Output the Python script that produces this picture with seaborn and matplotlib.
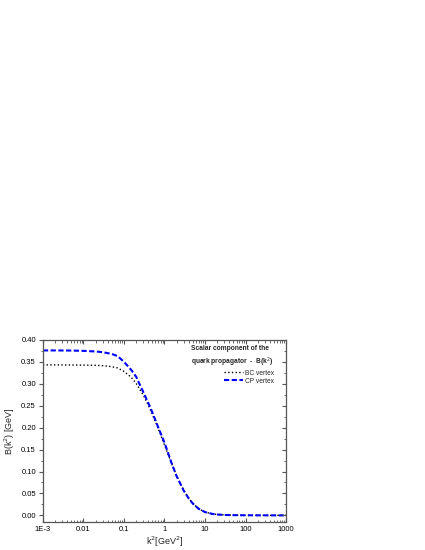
import numpy as np
import pandas as pd
import seaborn as sns
import matplotlib.pyplot as plt
from matplotlib.ticker import LogLocator, MultipleLocator, FixedFormatter, FixedLocator, NullFormatter

# values
k2 = [0.001, 0.002, 0.005, 0.01, 0.02, 0.03, 0.05, 0.07, 0.1, 0.15, 0.2, 0.3, 0.4, 0.5,
      0.7, 1.0, 1.5, 2.0, 3.0, 4.0, 5.0, 7.0, 10, 15, 20, 30, 50, 100, 200, 500, 1000]
b_bc = [0.3430, 0.3430, 0.3428, 0.3425, 0.3420, 0.3412, 0.3390, 0.3360, 0.3280, 0.3150,
        0.3010, 0.2740, 0.2510, 0.2310, 0.1980, 0.1610, 0.1180, 0.0900, 0.0570, 0.0390,
        0.0270, 0.0150, 0.0075, 0.0035, 0.0020, 0.0010, 0.0005, 0.0002, 0.0001, 0.0, 0.0]
b_cp = [0.3760, 0.3760, 0.3757, 0.3750, 0.3736, 0.3720, 0.3680, 0.3630, 0.3500, 0.3320,
        0.3160, 0.2810, 0.2560, 0.2350, 0.2010, 0.1660, 0.1190, 0.0890, 0.0560, 0.0380,
        0.0270, 0.0150, 0.0075, 0.0035, 0.0020, 0.0010, 0.0005, 0.0002, 0.0001, 0.0, 0.0]

xticks = [1e-3, 1e-2, 1e-1, 1, 10, 100, 1000]
xticklabels = ["1E-3", "0.01", "0.1", "1", "10", "100", "1000"]

sns.set_style("ticks")
plt.rcParams['font.family'] = ['Liberation Sans', 'DejaVu Sans']

fig = plt.figure(figsize=(4.25, 5.5), dpi=100)
ax = fig.add_axes([0.101, 0.051, 0.572, 0.331])

sns.lineplot(x=k2, y=b_bc, ax=ax, color="black", linestyle=":", linewidth=1.0, label="BC vertex")
sns.lineplot(x=k2, y=b_cp, ax=ax, color="#0000ff", linestyle=(0, (2.5, 1.2)), linewidth=1.5,
             label="CP vertex")

ax.set_xscale("log")
ax.set_xlim(1e-3, 1000)
ax.set_ylim(-0.015, 0.40)
ax.xaxis.set_major_locator(FixedLocator(xticks))
ax.xaxis.set_major_formatter(FixedFormatter(xticklabels))
ax.xaxis.set_minor_locator(LogLocator(base=10, subs=np.arange(2, 10), numticks=20))
ax.xaxis.set_minor_formatter(NullFormatter())
ax.yaxis.set_major_locator(MultipleLocator(0.05))
ax.yaxis.set_minor_locator(MultipleLocator(0.025))
ax.yaxis.set_major_formatter(plt.FuncFormatter(lambda v, p: "%.2f" % v))

for s in ax.spines.values():
    s.set_visible(True)
    s.set_color("#555555")
    s.set_linewidth(0.9)

ax.tick_params(axis="y", which="both", direction="out", left=True, right=False, labelsize=5.5,
               colors="#555555", labelcolor="black", pad=2)
ax.tick_params(axis="x", which="both", direction="in", bottom=True, top=True, labelsize=5.5,
               colors="#555555", labelcolor="black", pad=3)
ax.tick_params(axis="both", which="major", length=3, width=0.8)
ax.tick_params(axis="both", which="minor", length=1.8, width=0.6)

# inner ticks on the right side via a twin
ax2 = ax.twinx()
ax2.set_ylim(ax.get_ylim())
ax2.yaxis.set_major_locator(MultipleLocator(0.05))
ax2.yaxis.set_minor_locator(MultipleLocator(0.025))
ax2.tick_params(axis="y", which="both", direction="in", labelright=False, colors="#555555")
ax2.tick_params(axis="y", which="major", length=3, width=0.8)
ax2.tick_params(axis="y", which="minor", length=1.8, width=0.6)
for s in ax2.spines.values():
    s.set_visible(False)

ax.set_xlabel("k$^2$[GeV$^2$]", fontsize=6.5, labelpad=1)
ax.set_ylabel("B(k$^2$) [GeV]", fontsize=6.5, labelpad=3)

leg = ax.legend(title="Scalar component of the\nquark propagator  -  B(k$^2$)", loc="upper right",
                bbox_to_anchor=(0.96, 0.985), borderaxespad=0,
                frameon=False, fontsize=4.8, title_fontsize=4.8, handlelength=2.8, handletextpad=0.3,
                labelspacing=0.15, alignment="right")
leg.get_title().set_fontweight("bold")
leg.get_title().set_multialignment("left")
leg.get_title().set_linespacing(1.35)

fig.savefig("out.png", dpi=100)
